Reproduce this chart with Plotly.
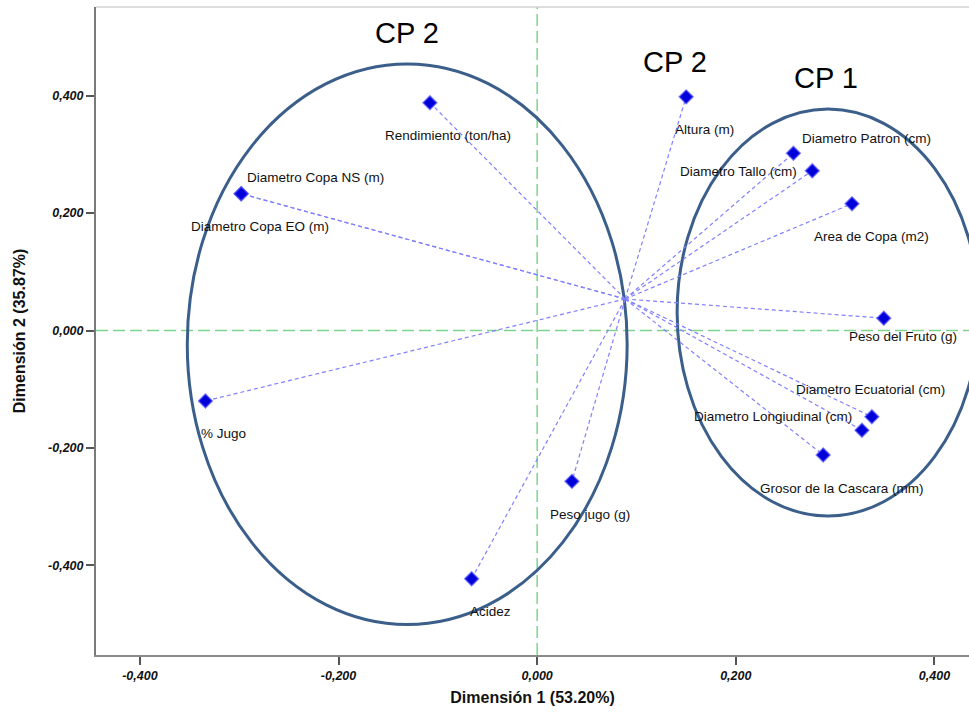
import plotly.graph_objects as go

# Variable loadings on the first two dimensions
variables = [
    "Rendimiento (ton/ha)", "Diametro Copa NS (m)", "Diametro Copa EO (m)",
    "% Jugo", "Acidez", "Peso jugo (g)", "Altura (m)",
    "Diametro Patron (cm)", "Diametro Tallo (cm)", "Area de Copa (m2)",
    "Peso del Fruto (g)", "Diametro Ecuatorial (cm)",
    "Diametro Longiudinal (cm)", "Grosor de la Cascara (mm)",
]
dim1 = [-0.108, -0.298, -0.298, -0.334, -0.066, 0.035, 0.150,
        0.258, 0.277, 0.317, 0.349, 0.337, 0.327, 0.288]
dim2 = [0.388, 0.233, 0.233, -0.120, -0.423, -0.257, 0.398,
        0.302, 0.272, 0.216, 0.021, -0.147, -0.170, -0.212]

# Common point from which the connector lines start
hub_x, hub_y = 0.0886, 0.0537

# Group ellipses: (label, x0, x1, y0, y1)
groups = [
    ("CP 2", -0.3523, 0.0906, -0.5009, 0.4540),
    ("CP 1", 0.1409, 0.4449, -0.3160, 0.3773),
]
group_titles = ["CP 2", "CP 2", "CP 1"]
group_title_x = [-0.131, 0.139, 0.291]
group_title_y = [0.506, 0.457, 0.430]

tick_vals = [-0.4, -0.2, 0.0, 0.2, 0.4]
tick_text = ["-0,400", "-0,200", "0,000", "0,200", "0,400"]

x_title = "Dimensión 1 (53.20%)"
y_title = "Dimensión 2 (35.87%)"

# Label placement relative to each marker (pixels: right, down)
label_offsets = [
    (18, 33), (74, -16), (19, 33), (18, 33), (19, 33), (18, 33), (18, 33),
    (73, -15), (-74, 1), (19, 33), (19, 18), (-1, -27), (-89, -14), (19, 34),
]

FONT = "Liberation Sans, Arial, sans-serif"

line_x, line_y = [], []
for x, y in zip(dim1, dim2):
    line_x += [hub_x, x, None]
    line_y += [hub_y, y, None]

fig = go.Figure()
fig.add_trace(go.Scatter(
    x=line_x, y=line_y, mode="lines",
    line=dict(color="#8080ff", width=1.2, dash="4px,3px"),
    hoverinfo="skip", showlegend=False,
))
fig.add_trace(go.Scatter(
    x=dim1, y=dim2, mode="markers", text=variables,
    marker=dict(symbol="diamond", size=10.5, color="#0000d8",
                line=dict(color="rgba(70,70,255,0.65)", width=1.6)),
    hovertemplate="%{text}<br>%{x:.3f}, %{y:.3f}<extra></extra>",
    showlegend=False,
))

shapes = []
for _, x0, x1, y0, y1 in groups:
    shapes.append(dict(type="circle", xref="x", yref="y", x0=x0, x1=x1, y0=y0, y1=y1,
                       line=dict(color="#3b5f8a", width=3), layer="below"))
# Reference lines through the origin
shapes.append(dict(type="line", xref="x", yref="paper", x0=0, x1=0, y0=0, y1=1,
                   line=dict(color="#7fd48c", width=1.5, dash="12px,5px"), layer="below"))
shapes.append(dict(type="line", xref="paper", yref="y", x0=0, x1=1, y0=0, y1=0,
                   line=dict(color="#7fd48c", width=1.5, dash="12px,5px"), layer="below"))
# Light top border of the plot frame
shapes.append(dict(type="line", xref="paper", yref="paper", x0=0, x1=1, y0=1, y1=1,
                   line=dict(color="#d2d2d2", width=1.5)))

annotations = []
for name, x, y, (dx, dy) in zip(variables, dim1, dim2, label_offsets):
    annotations.append(dict(x=x, y=y, xref="x", yref="y", text=name, showarrow=False,
                            xshift=dx, yshift=-dy, xanchor="center", yanchor="middle",
                            font=dict(family=FONT, size=13.5, color="#111111")))
for t, x, y in zip(group_titles, group_title_x, group_title_y):
    annotations.append(dict(x=x, y=y, xref="x", yref="y", text=t, showarrow=False,
                            xanchor="center", yanchor="middle",
                            font=dict(family=FONT, size=29, color="#000000")))

tick_font = dict(family=FONT, size=12.5, color="#111111", weight="bold", style="italic")

fig.update_layout(
    width=969, height=713,
    margin=dict(l=96, r=0, t=7, b=58),
    paper_bgcolor="white", plot_bgcolor="white",
    shapes=shapes, annotations=annotations,
    xaxis=dict(range=[-0.4442, 0.4348], tickvals=tick_vals, ticktext=tick_text,
               showgrid=False, zeroline=False, showline=True, linecolor="#8a8a8a",
               linewidth=2, ticks="outside", ticklen=8, tickwidth=2, tickcolor="#555555",
               tickfont=tick_font,
               title=dict(text=x_title, standoff=10,
                          font=dict(family=FONT, size=16, color="#111111", weight="bold"))),
    yaxis=dict(range=[-0.5528, 0.5511], tickvals=tick_vals, ticktext=tick_text,
               showgrid=False, zeroline=False, showline=True, linecolor="#7a7a7a",
               linewidth=2, ticks="outside", ticklen=8, tickwidth=2, tickcolor="#555555",
               tickfont=tick_font,
               title=dict(text=y_title, standoff=18,
                          font=dict(family=FONT, size=16, color="#111111", weight="bold"))),
)

fig.write_html("out.html")
